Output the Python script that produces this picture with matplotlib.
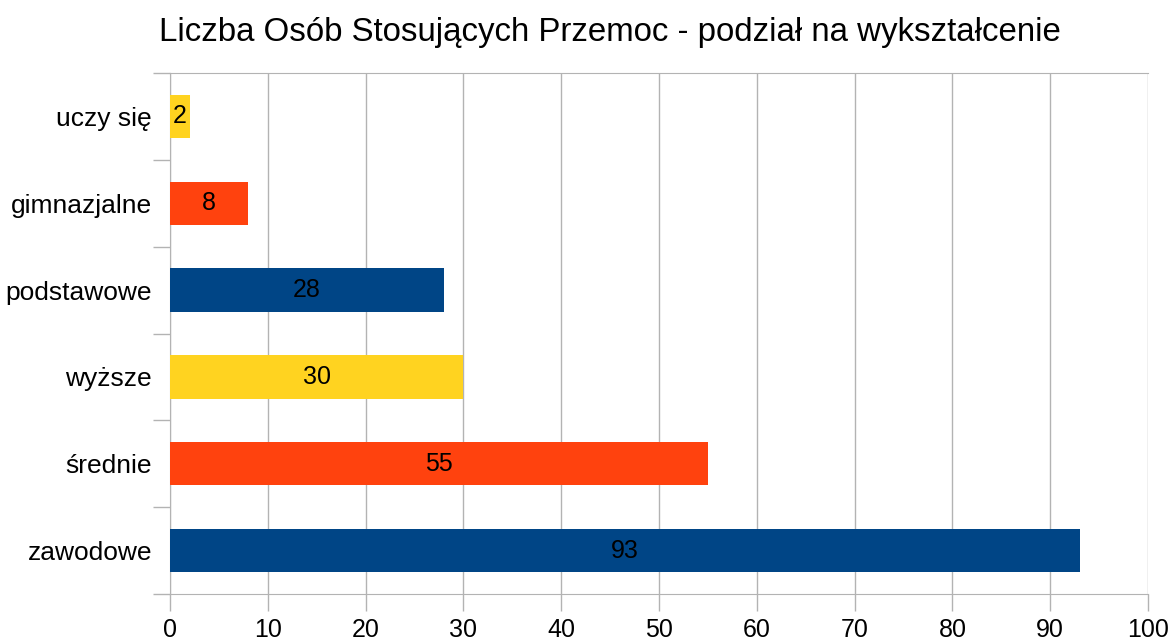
import matplotlib
matplotlib.use("Agg")
import matplotlib.pyplot as plt

categories = ["zawodowe", "średnie", "wyższe", "podstawowe", "gimnazjalne", "uczy się"]
values = [93, 55, 30, 28, 8, 2]
colors = ["#004586", "#ff420e", "#ffd320", "#004586", "#ff420e", "#ffd320"]
xticks = [0, 10, 20, 30, 40, 50, 60, 70, 80, 90, 100]
title = "Liczba Osób Stosujących Przemoc - podział na wykształcenie"

plt.rcParams['font.family'] = ['Liberation Sans', 'DejaVu Sans']

fig = plt.figure(figsize=(11.72, 6.42), dpi=100)
ax = fig.add_axes([170/1172, 1-594/642, (1148-170)/1172, (594-73)/642])

ypos = list(range(len(categories)))
bars = ax.barh(ypos, values, height=0.5, color=colors, zorder=3)
for y, v in zip(ypos, values):
    ax.text(v/2, y, str(v), ha='center', va='center', fontsize=18, color='black', zorder=4)

ax.set_xlim(0, 100)
ax.set_ylim(-0.5, len(categories)-0.5)
ax.set_xticks(xticks)
ax.set_xticklabels([str(t) for t in xticks], fontsize=18)
ax.set_yticks(ypos)
ax.set_yticklabels(categories, fontsize=19)
ax.tick_params(axis='y', length=0, pad=13)
ax.set_yticks([i - 0.5 for i in range(len(categories)+1)], minor=True)
ax.tick_params(axis='y', which='minor', length=12, color='#b3b3b3', width=1)
ax.tick_params(axis='x', length=12, color='#b3b3b3', width=1, pad=5)
ax.grid(axis='x', color='#b3b3b3', linewidth=1, zorder=0)
for s in ['left', 'bottom', 'top']:
    ax.spines[s].set_color('#b3b3b3')
ax.spines['right'].set_visible(False)

fig.text(610/1172, 1-33/642, title, ha='center', va='center', fontsize=23.8)

fig.savefig("out.png", dpi=100)
